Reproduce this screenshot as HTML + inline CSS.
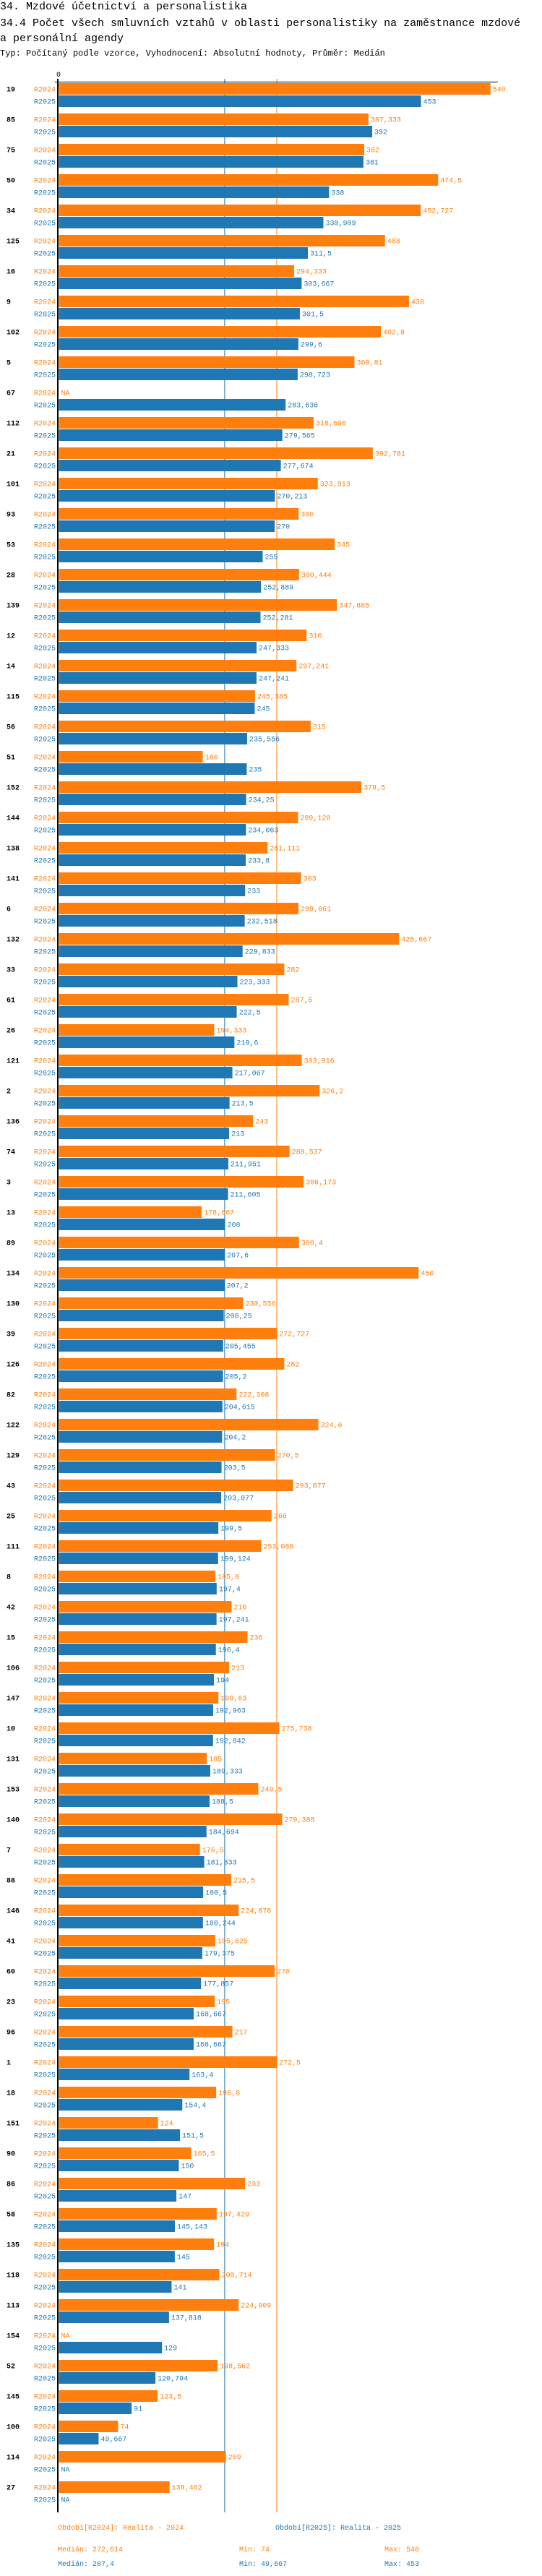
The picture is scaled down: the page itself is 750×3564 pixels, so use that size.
<!DOCTYPE html>
<html><head><meta charset="utf-8"><style>
html,body{margin:0;padding:0;background:#fff;}
svg{display:block;font-family:"Liberation Mono",monospace;}
</style></head><body>
<svg id="chart" width="750" height="3564" viewBox="0 0 750 3564" xmlns="http://www.w3.org/2000/svg">
<text x="0" y="13" font-size="15">34. Mzdové účetnictví a personalistika</text>
<text x="0" y="36" font-size="15">34.4 Počet všech smluvních vztahů v oblasti personalistiky na zaměstnance mzdové</text>
<text x="0" y="57" font-size="15">a personální agendy</text>
<text x="0" y="77" font-size="12">Typ: Počítaný podle vzorce, Vyhodnocení: Absolutní hodnoty, Průměr: Medián</text>
<g id="plot"></g>
<g font-size="10">
<text x="80" y="3500" fill="#ff7f0e">Období[R2024]: Realita - 2024</text>
<text x="381" y="3500" fill="#1f77b4">Období[R2025]: Realita - 2025</text>
<text x="80" y="3530" fill="#ff7f0e">Medián: 272,614</text>
<text x="331" y="3530" fill="#ff7f0e">Min: 74</text>
<text x="532" y="3530" fill="#ff7f0e">Max: 540</text>
<text x="80" y="3550" fill="#1f77b4">Medián: 207,4</text>
<text x="331" y="3550" fill="#1f77b4">Min: 49,667</text>
<text x="532" y="3550" fill="#1f77b4">Max: 453</text>
</g>
</svg>
<script>
const categories=["19","85","75","50","34","125","16","9","102","5","67","112","21","101","93","53","28","139","12","14","115","56","51","152","144","138","141","6","132","33","61","26","121","2","136","74","3","13","89","134","130","39","126","82","122","129","43","25","111","8","42","15","106","147","10","131","153","140","7","88","146","41","60","23","96","1","18","151","90","86","58","135","118","113","154","52","145","100","114","27"];
const values2024=[540,387.333,382,474.5,452.727,408,294.333,438,402.8,369.81,null,318.696,392.781,323.913,300,345,300.444,347.885,310,297.241,245.385,315,180,378.5,299.128,261.111,303,299.861,425.667,282,287.5,194.333,303.916,326.2,243,288.537,306.173,178.667,300.4,450,230.556,272.727,282,222.308,324.6,270.5,293.077,266,253.088,195.8,216,236,213,199.63,275.738,185,249.5,279.388,176.5,215.5,224.878,195.625,270,195,217,272.5,196.8,124,165.5,233,197.429,194,200.714,224.909,null,198.562,123.5,74,209,138.462];
const values2025=[453,392,381,338,330.909,311.5,303.667,301.5,299.6,298.723,283.636,279.565,277.674,270.213,270,255,252.889,252.281,247.333,247.241,245,235.556,235,234.25,234.063,233.8,233,232.518,229.833,223.333,222.5,219.6,217.067,213.5,213,211.951,211.605,208,207.6,207.2,206.25,205.455,205.2,204.615,204.2,203.5,203.077,199.5,199.124,197.4,197.241,196.4,194,192.963,192.842,189.333,188.5,184.694,181.833,180.5,180.244,179.375,177.857,168.667,168.667,163.4,154.4,151.5,150,147,145.143,145,141,137.818,129,120.794,91,49.667,null,null];
const medians=[272.614,207.4];
const seriesNames=["R2024","R2025"];
const colors=["#ff7f0e","#1f77b4"];
const X0=81.5,K=1.106,TOP=115,PITCH=42,BH=16;
const xs=v=>X0+v*K;
const ys=(i,s)=>TOP+i*PITCH+s*17;
const fmt=v=>v===null?"NA":String(Math.round(v*1000)/1000).replace(".",",");
const NS="http://www.w3.org/2000/svg";
const g=document.getElementById("plot");
function mk(t,a){const e=document.createElementNS(NS,t);for(const k in a)e.setAttribute(k,a[k]);g.appendChild(e);return e;}
const bottom=ys(categories.length-1,1)+BH+10;
// medians
medians.forEach((m,s)=>{const l=mk("line",{x1:xs(m),x2:xs(m),y1:109,y2:bottom,stroke:colors[s],"stroke-width":1});

});
categories.forEach((c,i)=>{
 const gl=mk("text",{x:9,y:ys(i,0)+BH/2+3.5,"font-size":10,"font-weight":"bold",fill:"#000"});gl.textContent=c;
 
 
 [values2024[i],values2025[i]].forEach((v,s)=>{
  const y=ys(i,s);
  const sl=mk("text",{x:77,y:y+BH/2+3.5,"font-size":10,"text-anchor":"end",fill:colors[s]});sl.textContent=seriesNames[s];
  
  
  let endX=X0;
  if(v!==null){const r=mk("rect",{x:X0,y:y,width:xs(v)-X0,height:BH,fill:colors[s]});endX=xs(v);
   
   }
  const vl=mk("text",{x:endX+3,y:y+BH/2+3.5,"font-size":10,fill:colors[s]});vl.textContent=fmt(v);
  
  
 });
});
const ax=mk("line",{x1:80,x2:80,y1:109,y2:bottom,stroke:"#000","stroke-width":2});


const tl=mk("line",{x1:76,x2:xs(549),y1:113.5,y2:113.5,stroke:"#000","stroke-width":1});


const t0=mk("text",{x:81,y:106,"font-size":10,"text-anchor":"middle",fill:"#000"});t0.textContent="0";


</script>
</body></html>
